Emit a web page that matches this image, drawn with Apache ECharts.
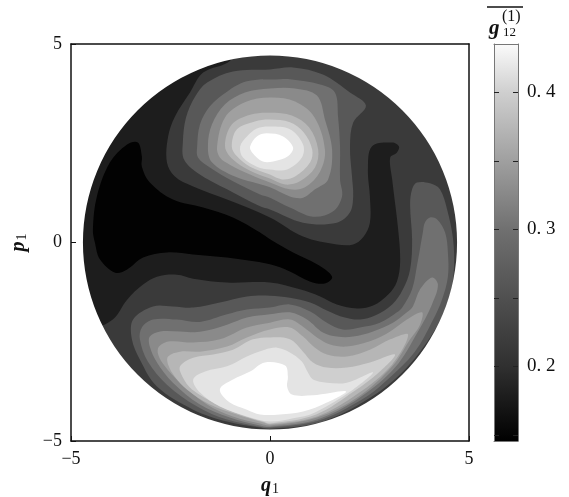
<!DOCTYPE html>
<html><head><meta charset="utf-8">
<style>html,body{margin:0;padding:0;background:#fff}#c{width:569px;height:497px}</style>
<script src="https://cdn.jsdelivr.net/npm/echarts@6/dist/echarts.min.js"></script>
</head><body><div id="c"></div>
<script>
const axisTicks = [-5, 0, 5];
const barTicks = [0.15, 0.2, 0.25, 0.3, 0.35, 0.4];
const barLabels = [0.2, 0.3, 0.4];
const barRange = [0.1456, 0.4354];
const diskRadius = 4.7;
// contour outlines, in (q1, p1)
const darkBand = [[-1,4.95],[-4.95,4.95],[-4.95,-2.19],[-4.52,-2.19],[-3.95,-1.94],[-3.59,-1.44],[-3.19,-1.06],[-2.84,-.86],[-2.34,-.81],[-1.93,-.91],[-1.08,-1.01],[0,-1.01],[.75,-1.18],[1.26,-1.36],[1.68,-1.56],[2.19,-1.66],[2.59,-1.59],[2.97,-1.31],[3.19,-.98],[3.27,-.48],[3.22,.33],[3.07,1.59],[3.02,2.14],[3.19,2.27],[3.24,2.42],[3.07,2.52],[2.56,2.42],[2.46,1.84],[2.51,1.16],[2.51,.5],[2.34,.13],[2.09,-.05],[1.68,-.05],[.83,.15],[0,.63],[-1.08,1.08],[-1.93,1.41],[-2.39,1.66],[-2.59,2.02],[-2.56,2.67],[-2.39,3.17],[-2.01,3.78],[-1.68,4.28],[-1,4.58]];
const blackCore = [[-3.32,2.52],[-3.59,2.47],[-4.02,2.02],[-4.35,1.16],[-4.45,.33],[-4.4,0],[-4.27,-.43],[-3.89,-.76],[-3.59,-.68],[-3.19,-.38],[-2.59,-.25],[-1.93,-.3],[-1.08,-.38],[0,-.55],[.5,-.73],[1,-.98],[1.38,-1.03],[1.56,-.86],[1.18,-.55],[.58,-.25],[0,.08],[-.25,.25],[-.93,.63],[-1.68,.88],[-2.44,1.08],[-3.02,1.51],[-3.22,1.91],[-3.22,2.17]];
const peakA = [[0,4.36],[-.93,4.31],[-1.58,4.03],[-1.88,3.68],[-2.11,3.15],[-2.19,2.52],[-2.16,2.09],[-1.83,1.76],[-1.08,1.34],[-.25,.91],[0,.83],[.83,.5],[1.68,.5],[2.01,.76],[2.09,1.16],[2.06,1.66],[2.01,2.42],[2.09,3.02],[2.41,3.45],[2.01,3.78],[1.33,4.23],[.58,4.41]];
const peakB = [[.25,4.11],[-.58,4.06],[-1.08,3.8],[-1.51,3.43],[-1.76,2.97],[-1.83,2.42],[-1.81,2.14],[-1.51,1.89],[-.93,1.54],[-.25,1.21],[0,1.13],[.5,.88],[1.08,.65],[1.58,.78],[1.81,1.16],[1.76,1.59],[1.76,2.42],[1.71,3.17],[1.63,3.78],[1.26,3.98],[.5,4.11]];
const peakC = [[0,3.88],[-.63,3.78],[-1.13,3.48],[-1.46,2.97],[-1.56,2.42],[-1.46,2.02],[-.88,1.66],[0,1.39],[.5,1.16],[.83,1.13],[1.13,1.34],[1.46,1.59],[1.56,2.34],[1.38,3.1],[1.18,3.7],[.63,3.88]];
const peakD = [[0,3.65],[-.63,3.53],[-1.13,3.15],[-1.33,2.42],[-1.26,2.14],[-1.01,1.96],[-.5,1.71],[0,1.51],[.5,1.34],[.88,1.39],[1.26,1.79],[1.38,2.34],[1.12,3.15],[.63,3.55]];
const peakE = [[0,3.27],[-.5,3.22],[-.96,2.97],[-1.13,2.42],[-.93,2.09],[-.5,1.81],[0,1.61],[.38,1.46],[.75,1.54],[1.13,1.89],[1.21,2.34],[.98,2.9],[.55,3.2]];
const peakF = [[0,3.1],[-.38,3.05],[-.83,2.85],[-.96,2.42],[-.83,2.17],[-.5,1.91],[0,1.71],[.3,1.59],[.63,1.66],[1.01,2.02],[1.06,2.34],[.85,2.77],[.5,3.03]];
const peakG = [[0,2.92],[-.33,2.87],[-.58,2.67],[-.75,2.42],[-.68,2.14],[-.33,1.91],[0,1.84],[.43,1.84],[.8,2.14],[.83,2.47],[.5,2.85]];
const peakH = [[-.08,2.75],[-.33,2.67],[-.5,2.42],[-.45,2.27],[-.18,2.04],[.08,2.04],[.45,2.17],[.58,2.39],[.33,2.67]];
const lobeA = [[-3.44,-1.94],[-2.94,-1.61],[-2.44,-1.61],[-1.93,-1.64],[-1.26,-1.51],[-.58,-1.36],[0,-1.34],[.5,-1.39],[1.01,-1.51],[1.43,-1.71],[1.88,-1.89],[2.26,-1.94],[2.64,-1.84],[3.07,-1.56],[3.34,-1.18],[3.52,-.68],[3.57,.08],[3.52,.96],[3.57,1.34],[3.69,1.51],[4.02,1.49],[4.27,1.34],[4.45,.83],[4.6,.08],[4.62,-.68],[4.52,-1.31],[4.15,-2.19],[3.29,-3.3],[2.32,-4.03],[1.21,-4.54],[0,-4.69],[-.25,-4.66],[-1.08,-4.51],[-1.93,-4.21],[-2.84,-3.63],[-3.27,-2.95],[-3.47,-2.44]];
const lobeB = [[-3.22,-2.14],[-2.94,-1.94],[-2.34,-1.94],[-1.76,-2],[-1.08,-1.81],[-.58,-1.69],[0,-1.64],[.5,-1.56],[1.01,-1.74],[1.43,-2.02],[1.83,-2.19],[2.26,-2.14],[2.76,-2.02],[3.19,-1.76],[3.34,-1.61],[3.57,-1.18],[3.69,-.6],[3.84,.25],[3.89,.5],[4.02,.63],[4.2,.58],[4.4,.25],[4.47,-.25],[4.47,-.86],[4.32,-1.44],[4.1,-1.94],[3.64,-2.75],[2.92,-3.48],[2.29,-3.97],[1.21,-4.49],[0,-4.66],[-.25,-4.64],[-1.08,-4.46],[-1.83,-4.13],[-2.59,-3.58],[-3.07,-3],[-3.27,-2.44]];
const lobeC = [[-3.02,-2.37],[-2.76,-2.24],[-2.26,-2.24],[-1.76,-2.25],[-1.08,-2.07],[-.58,-1.89],[0,-1.81],[.5,-1.76],[.93,-1.94],[1.33,-2.27],[1.68,-2.37],[2.09,-2.37],[2.59,-2.24],[3.09,-2.02],[3.44,-1.76],[3.59,-1.61],[3.77,-1.18],[4.07,-.88],[4.22,-1.06],[4.07,-1.56],[3.72,-2.24],[3.14,-3.15],[2.25,-3.91],[1.18,-4.46],[0,-4.64],[-.25,-4.61],[-1.01,-4.41],[-1.76,-4.08],[-2.44,-3.53],[-2.84,-3.02],[-3.02,-2.62]];
const lobeD = [[-2.79,-2.62],[-2.51,-2.49],[-1.93,-2.52],[-1.26,-2.44],[-.58,-2.14],[0,-2.02],[.5,-1.94],[.83,-2.12],[1.18,-2.39],[1.51,-2.57],[1.93,-2.62],[2.51,-2.49],[3.02,-2.24],[3.44,-1.94],[3.82,-1.76],[3.77,-2.07],[3.52,-2.44],[3.09,-3.1],[2.23,-3.88],[1.18,-4.41],[0,-4.61],[-.25,-4.56],[-.93,-4.38],[-1.58,-4.08],[-2.26,-3.53],[-2.64,-3.12],[-2.81,-2.82]];
const lobeE = [[-2.56,-2.87],[-2.26,-2.75],[-1.76,-2.75],[-1.08,-2.62],[-.58,-2.39],[0,-2.19],[.5,-2.14],[.83,-2.37],[1.13,-2.65],[1.43,-2.82],[1.93,-2.87],[2.51,-2.7],[3.02,-2.44],[3.47,-2.32],[3.07,-3.07],[2.2,-3.81],[1.18,-4.38],[0,-4.58],[-.18,-4.53],[-.83,-4.33],[-1.51,-4.08],[-2.09,-3.7],[-2.39,-3.38],[-2.56,-3.07]];
const lobeF = [[-2.26,-3.12],[-1.93,-2.9],[-1.43,-2.82],[-.93,-2.7],[-.43,-2.44],[0,-2.39],[.5,-2.44],[.83,-2.75],[1.08,-3.02],[1.43,-3.15],[1.93,-3.15],[2.51,-3.02],[3.14,-2.82],[2.74,-3.27],[2.14,-3.73],[1.16,-4.33],[0,-4.56],[-.18,-4.51],[-.75,-4.33],[-1.33,-4.08],[-1.96,-3.7],[-2.19,-3.4]];
const lobeG = [[-1.93,-3.45],[-1.63,-3.25],[-1.08,-3.12],[-.58,-2.87],[-.13,-2.7],[.18,-2.65],[.5,-2.77],[.8,-3],[.95,-3.27],[1.08,-3.45],[1.43,-3.53],[1.93,-3.53],[2.59,-3.27],[2.09,-3.7],[1.13,-4.28],[.58,-4.43],[0,-4.51],[-.58,-4.38],[-1.26,-4.13],[-1.76,-3.78]];
const lobeH = [[-1.26,-3.7],[-.93,-3.45],[-.5,-3.25],[-.13,-3.02],[.38,-3.1],[.45,-3.38],[.43,-3.63],[.55,-3.83],[1.08,-3.85],[1.91,-3.75],[1.43,-4.03],[.83,-4.26],[.25,-4.33],[-.25,-4.33],[-.58,-4.21],[-1.01,-4.03]];

const BASE = '#3a3a3a';
const layers = [
  [darkBand,'#1d1d1d'],[blackCore,'#020202'],
  [peakA,'#585858'],[peakB,'#707070'],[peakC,'#8a8a8a'],[peakD,'#a0a0a0'],[peakE,'#b6b6b6'],[peakF,'#cfcfcf'],[peakG,'#e4e4e4'],[peakH,'#ffffff'],
  [lobeA,'#585858'],[lobeB,'#707070'],[lobeC,'#8a8a8a'],[lobeD,'#a0a0a0'],[lobeE,'#b6b6b6'],[lobeF,'#cfcfcf'],[lobeG,'#e4e4e4'],[lobeH,'#ffffff']
];
const serif = '"Liberation Serif","DejaVu Serif",serif';
const ink = '#111';
const fmt = v => String(v).replace('-', '\u2212');
function frame(extra){
  return Object.assign({z:10,axisLine:{onZero:false,lineStyle:{color:ink,width:1.5}},axisTick:{inside:true,length:5,lineStyle:{color:ink,width:1}},splitLine:{show:false},
    axisLabel:{show:false}},extra);
}
const labelStyle = {show:true,color:ink,fontFamily:serif,fontSize:18};
const chart = echarts.init(document.getElementById('c'),null,{renderer:'canvas'});
chart.setOption({
  animation:false,
  grid:[{left:71,top:44,width:398,height:397,outerBoundsMode:'none'},{left:494,top:44,width:24,height:397,outerBoundsMode:'none'}],
  xAxis:[
    frame({type:'value',gridIndex:0,min:-5,max:5,interval:5,position:'bottom',
      axisLabel:Object.assign({},labelStyle,{margin:9,formatter:fmt,hideOverlap:false,showMinLabel:true,showMaxLabel:true}),
      name:'{q|q}{s|1}',nameLocation:'middle',nameGap:35,
      nameTextStyle:{rich:{q:{fontFamily:serif,fontStyle:'italic',fontWeight:'bold',fontSize:20,color:ink},s:{fontFamily:serif,fontSize:14,color:ink,padding:[6,0,0,1]}}}}),
    frame({type:'value',gridIndex:0,min:-5,max:5,interval:5,position:'top',axisTick:{show:false}}),
    frame({type:'value',gridIndex:1,min:0,max:1,interval:1,position:'bottom',axisTick:{show:false},axisLine:{onZero:false,lineStyle:{color:'#777',width:1}}}),
    frame({type:'value',gridIndex:1,min:0,max:1,interval:1,position:'top',axisTick:{show:false},axisLine:{onZero:false,lineStyle:{color:'#777',width:1}}})
  ],
  yAxis:[
    frame({type:'value',gridIndex:0,min:-5,max:5,interval:5,position:'left',
      axisLabel:Object.assign({},labelStyle,{margin:9,formatter:fmt,showMinLabel:true,showMaxLabel:true}),
      name:'{p|p}{s|1}',nameLocation:'middle',nameGap:42,nameRotate:90,
      nameTextStyle:{rich:{p:{fontFamily:serif,fontStyle:'italic',fontWeight:'bold',fontSize:20,color:ink},s:{fontFamily:serif,fontSize:14,color:ink,padding:[6,0,0,1]}}}}),
    frame({type:'value',gridIndex:0,min:-5,max:5,interval:5,position:'right',axisTick:{show:false}}),
    frame({type:'value',gridIndex:1,min:barRange[0],max:barRange[1],position:'left',
      axisLine:{onZero:false,lineStyle:{color:'#777',width:1}},
      axisTick:{inside:true,length:5,customValues:barTicks,lineStyle:{color:'#222',width:1}}}),
    frame({type:'value',gridIndex:1,min:barRange[0],max:barRange[1],position:'right',
      axisLine:{onZero:false,lineStyle:{color:'#777',width:1}},
      axisTick:{inside:true,length:5,customValues:barTicks,lineStyle:{color:'#222',width:1}},
      axisLabel:Object.assign({},labelStyle,{fontSize:19,margin:9,customValues:barLabels,formatter:v=>v.toFixed(1).replace('.','. ')})})
  ],
  series:[
    {type:'custom',xAxisIndex:0,yAxisIndex:0,silent:true,clip:true,z:2,data:[[0,0]],
     renderItem:(p,api)=>{
       const pts = a => a.map(d=>api.coord(d));
       const tl = api.coord([-5,5]), br = api.coord([5,-5]), c = api.coord([0,0]);
       const r = api.coord([diskRadius,0])[0]-c[0];
       const children = [{type:'rect',shape:{x:tl[0],y:tl[1],width:br[0]-tl[0],height:br[1]-tl[1]},style:{fill:BASE}}];
       layers.forEach(l=>children.push({type:'polygon',shape:{points:pts(l[0]),smooth:0.35},style:{fill:l[1]}}));
       const pd = `M${tl[0]-1} ${tl[1]-1}L${br[0]+1} ${tl[1]-1}L${br[0]+1} ${br[1]+1}L${tl[0]-1} ${br[1]+1}Z`+
         `M${c[0]-r} ${c[1]}A${r} ${r} 0 1 0 ${c[0]+r} ${c[1]}A${r} ${r} 0 1 0 ${c[0]-r} ${c[1]}Z`;
       children.push({type:'path',shape:{pathData:pd},style:{fill:'#fff'}});
       return {type:'group',children};
     }},
    {type:'custom',xAxisIndex:2,yAxisIndex:2,silent:true,clip:false,z:2,data:[[0,0]],
     renderItem:(p,api)=>{
       const a = api.coord([0,barRange[1]]), b = api.coord([1,barRange[0]]);
       return {type:'rect',shape:{x:a[0],y:a[1],width:b[0]-a[0],height:b[1]-a[1]},
         style:{fill:{type:'linear',x:0,y:0,x2:0,y2:1,colorStops:[
           {offset:0,color:'#fbfbfb'},{offset:0.122,color:'#cfcfcf'},{offset:0.467,color:'#707070'},{offset:0.812,color:'#303030'},{offset:1,color:'#000'}]}}};
     }}
  ],
  graphic:[
    {type:'line',shape:{x1:487,y1:7,x2:523,y2:7},style:{stroke:ink,lineWidth:1.5}},
    {type:'text',x:489,y:18,style:{text:'g',font:'italic bold 21px '+serif,fill:ink}},
    {type:'text',x:502,y:9,style:{text:'(1)',font:'16px '+serif,fill:ink}},
    {type:'text',x:503,y:26,style:{text:'12',font:'13px '+serif,fill:ink}}
  ]
});
</script></body></html>
